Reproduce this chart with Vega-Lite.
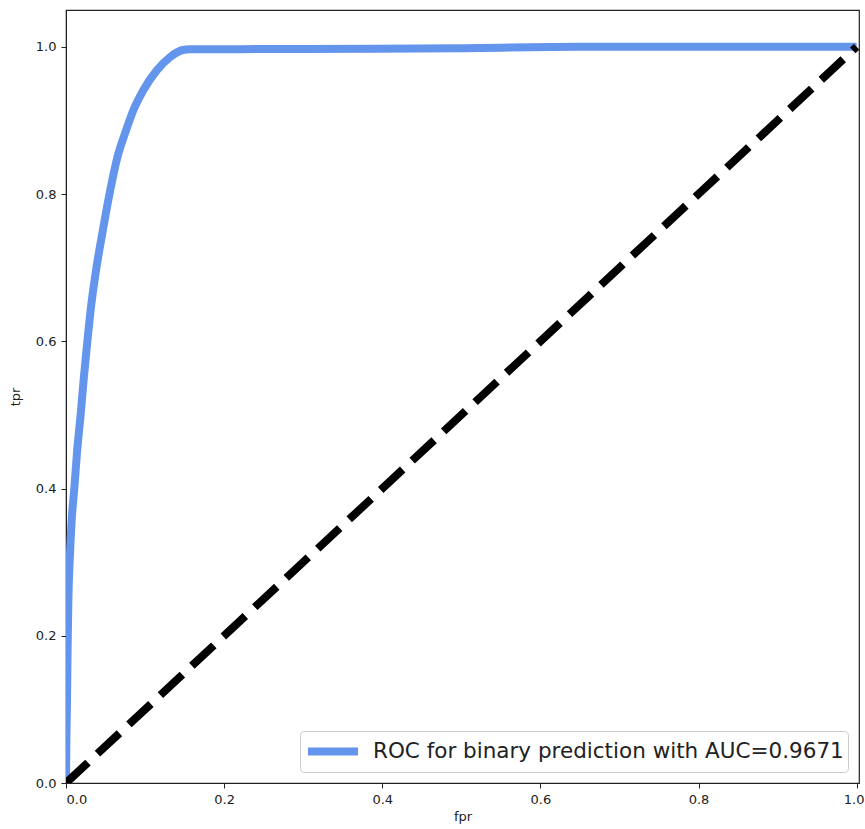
{
  "$schema": "https://vega.github.io/schema/vega-lite/v6.json",
  "width": 793,
  "height": 773,
  "autosize": "none",
  "padding": {"left": 66, "top": 10, "right": 6, "bottom": 46},
  "background": "white",
  "config": {
    "font": "DejaVu Sans",
    "view": {"stroke": "#222222", "strokeWidth": 1.2},
    "axis": {
      "grid": false,
      "domainColor": "#222222",
      "tickColor": "#222222",
      "tickSize": 5,
      "labelColor": "#222222",
      "labelFontSize": 13,
      "labelPadding": 5,
      "titleFontSize": 13,
      "titleFontWeight": "normal",
      "titleColor": "#222222"
    }
  },
  "datasets": {
    "roc": [
      {"fpr": 0.0, "tpr": 0.0, "label": "ROC for binary prediction with AUC=0.9671"},
      {"fpr": 0.0005, "tpr": 0.06, "label": "ROC for binary prediction with AUC=0.9671"},
      {"fpr": 0.0013, "tpr": 0.113, "label": "ROC for binary prediction with AUC=0.9671"},
      {"fpr": 0.002, "tpr": 0.18, "label": "ROC for binary prediction with AUC=0.9671"},
      {"fpr": 0.003, "tpr": 0.248, "label": "ROC for binary prediction with AUC=0.9671"},
      {"fpr": 0.005, "tpr": 0.31, "label": "ROC for binary prediction with AUC=0.9671"},
      {"fpr": 0.0072, "tpr": 0.357, "label": "ROC for binary prediction with AUC=0.9671"},
      {"fpr": 0.0105, "tpr": 0.4, "label": "ROC for binary prediction with AUC=0.9671"},
      {"fpr": 0.014, "tpr": 0.45, "label": "ROC for binary prediction with AUC=0.9671"},
      {"fpr": 0.0185, "tpr": 0.5, "label": "ROC for binary prediction with AUC=0.9671"},
      {"fpr": 0.0225, "tpr": 0.55, "label": "ROC for binary prediction with AUC=0.9671"},
      {"fpr": 0.027, "tpr": 0.6, "label": "ROC for binary prediction with AUC=0.9671"},
      {"fpr": 0.032, "tpr": 0.65, "label": "ROC for binary prediction with AUC=0.9671"},
      {"fpr": 0.0385, "tpr": 0.7, "label": "ROC for binary prediction with AUC=0.9671"},
      {"fpr": 0.0465, "tpr": 0.75, "label": "ROC for binary prediction with AUC=0.9671"},
      {"fpr": 0.055, "tpr": 0.8, "label": "ROC for binary prediction with AUC=0.9671"},
      {"fpr": 0.065, "tpr": 0.85, "label": "ROC for binary prediction with AUC=0.9671"},
      {"fpr": 0.0747, "tpr": 0.8826, "label": "ROC for binary prediction with AUC=0.9671"},
      {"fpr": 0.0852, "tpr": 0.9138, "label": "ROC for binary prediction with AUC=0.9671"},
      {"fpr": 0.0978, "tpr": 0.941, "label": "ROC for binary prediction with AUC=0.9671"},
      {"fpr": 0.1148, "tpr": 0.968, "label": "ROC for binary prediction with AUC=0.9671"},
      {"fpr": 0.1316, "tpr": 0.986, "label": "ROC for binary prediction with AUC=0.9671"},
      {"fpr": 0.1465, "tpr": 0.9953, "label": "ROC for binary prediction with AUC=0.9671"},
      {"fpr": 0.157, "tpr": 0.9966, "label": "ROC for binary prediction with AUC=0.9671"},
      {"fpr": 0.3, "tpr": 0.997, "label": "ROC for binary prediction with AUC=0.9671"},
      {"fpr": 0.5, "tpr": 0.998, "label": "ROC for binary prediction with AUC=0.9671"},
      {"fpr": 0.65, "tpr": 1.0, "label": "ROC for binary prediction with AUC=0.9671"},
      {"fpr": 1.0, "tpr": 1.0, "label": "ROC for binary prediction with AUC=0.9671"}
    ],
    "diag": [
      {"fpr": 0.0, "tpr": 0.0},
      {"fpr": 1.0, "tpr": 1.0}
    ]
  },
  "layer": [
    {
      "data": {"name": "roc"},
      "mark": {"type": "line", "strokeWidth": 8, "clip": true, "interpolate": "monotone"},
      "encoding": {
        "x": {
          "field": "fpr", "type": "quantitative", "title": "fpr",
          "scale": {"domain": [0, 1.003], "nice": false, "zero": false},
          "axis": {
            "values": [0, 0.2, 0.4, 0.6, 0.8, 1.0],
            "format": ".1f",
            "titlePadding": 4,
            "labelOffset": {"condition": {"test": "datum.value == 1", "value": -3}, "value": 0}
          }
        },
        "y": {
          "field": "tpr", "type": "quantitative", "title": "tpr",
          "scale": {"domain": [0, 1.05], "nice": false, "zero": false},
          "axis": {"values": [0, 0.2, 0.4, 0.6, 0.8, 1.0], "format": ".1f", "titlePadding": 13}
        },
        "color": {
          "field": "label", "type": "nominal",
          "scale": {"range": ["#6495ED"]},
          "legend": {
            "title": null,
            "orient": "bottom-right",
            "offset": 11,
            "symbolType": "M-1,0H3",
            "symbolSize": 625,
            "symbolStrokeWidth": 8,
            "labelOffset": 36,
            "labelFontSize": 21.5,
            "labelColor": "#222222",
            "labelLimit": 700,
            "padding": 4,
            "strokeColor": "#cccccc",
            "fillColor": "white",
            "cornerRadius": 4
          }
        }
      }
    },
    {
      "data": {"name": "diag"},
      "mark": {"type": "line", "color": "black", "strokeWidth": 8, "strokeDash": [30, 13], "clip": true},
      "encoding": {
        "x": {"field": "fpr", "type": "quantitative"},
        "y": {"field": "tpr", "type": "quantitative"}
      }
    }
  ]
}
